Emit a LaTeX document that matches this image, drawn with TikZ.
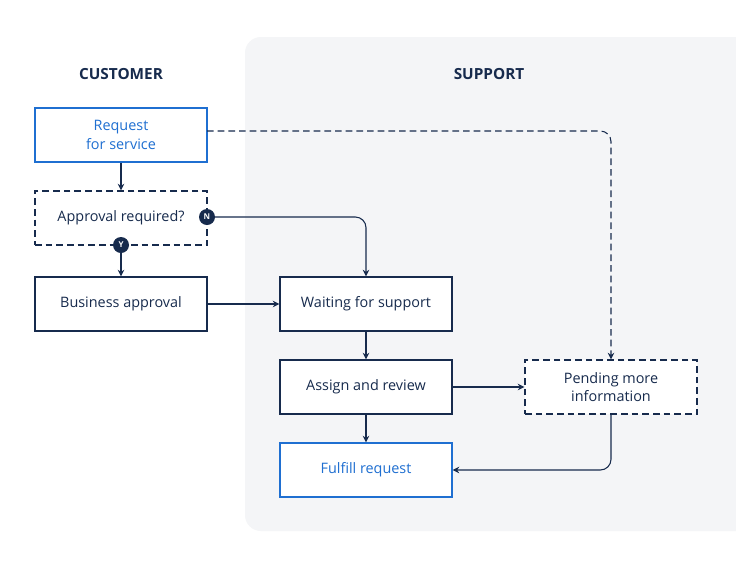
\documentclass[tikz,border=0pt]{standalone}
\usepackage{fontspec}
\setmainfont{Open Sans}
\usetikzlibrary{arrows.meta}
\definecolor{navy}{HTML}{172B4D}
\definecolor{blu}{HTML}{1F6FD1}
\definecolor{bg}{HTML}{F4F5F7}
\begin{document}
\begin{tikzpicture}[x=0.75pt,y=-0.75pt,
 box/.style={draw=navy,line width=0.9pt,fill=white,minimum width=172*0.75pt,minimum height=54*0.75pt,align=center,font=\fontsize{10.8}{14}\selectfont,text=navy,inner sep=0pt},
 bbox/.style={box,draw=blu,text=blu},
 dbox/.style={box,dash pattern=on 5pt off 3pt},
 title/.style={font=\bfseries\fontsize{11.5}{13}\selectfont,text=navy},
 arr/.style={draw=navy,line width=0.8pt,-{Stealth[length=5pt,width=5pt]}},
 darr/.style={arr,dash pattern=on 5pt off 3pt},
 tag/.style={circle,fill=navy,text=white,inner sep=0pt,minimum size=12pt,font=\bfseries\fontsize{6}{7}\selectfont}]
\useasboundingbox (0,0) rectangle (736,569);
\fill[white] (0,0) rectangle (736,569);
\fill[bg,rounded corners=12pt] (245,37) rectangle (760,531);
\node[title] (tc) at (121,74) {CUSTOMER};
\node[title] (ts) at (489,74) {SUPPORT};
\node[bbox] (req) at (121,135) {Request\\for service};
\node[dbox] (appr) at (121,218) {Approval required?};
\node[box] (bus) at (121,304) {Business approval};
\node[box] (wait) at (366,304) {Waiting for support};
\node[box] (assign) at (366,387) {Assign and review};
\node[bbox] (ful) at (366,470) {Fulfill request};
\node[dbox] (pend) at (611,387) {Pending more\\information};
\coordinate (rq) at (207,131);
\coordinate (c1) at (611,131);
\coordinate (c2) at (366,217);
\coordinate (c3) at (611,470);
\draw[arr] (req) -- (appr);
\draw[arr] (appr) -- (bus);
\draw[arr,rounded corners=8pt] (207,217) -- (c2) -- (wait.north);
\draw[arr] (bus) -- (wait);
\draw[arr] (wait) -- (assign);
\draw[arr] (assign) -- (ful);
\draw[arr] (assign) -- (pend);
\draw[darr,rounded corners=8pt] (rq) -- (c1) -- (pend.north);
\draw[arr,rounded corners=8pt] (pend.south) -- (c3) -- (ful.east);
\node[tag] (n) at (207,217) {N};
\node[tag] (y) at (121,245) {Y};
\end{tikzpicture}
\end{document}
